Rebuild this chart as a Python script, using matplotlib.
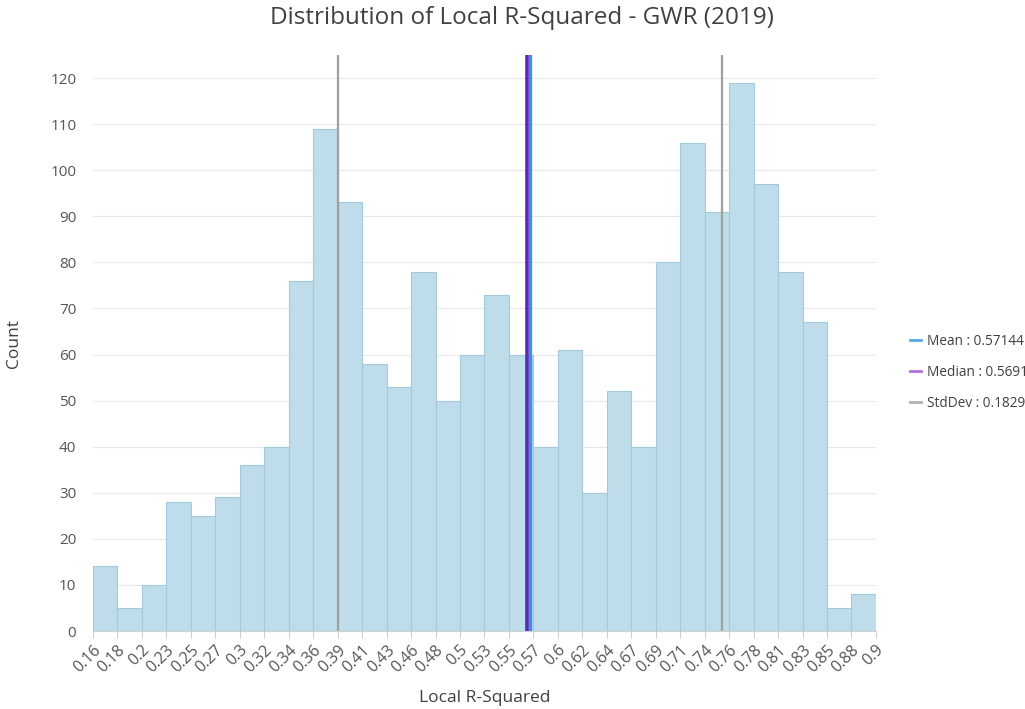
import numpy as np
import matplotlib
matplotlib.use('Agg')
import matplotlib.pyplot as plt
from matplotlib.lines import Line2D

plt.rcParams['font.family'] = ['Open Sans', 'DejaVu Sans']

# bin counts
counts = [14, 5, 10, 28, 25, 29, 36, 40, 76, 109, 93, 58, 53, 78, 50, 60,
          73, 60, 40, 61, 30, 52, 40, 80, 106, 91, 119, 97, 78, 67, 5, 8]
edge_labels = ['0.16', '0.18', '0.2', '0.23', '0.25', '0.27', '0.3', '0.32',
               '0.34', '0.36', '0.39', '0.41', '0.43', '0.46', '0.48', '0.5',
               '0.53', '0.55', '0.57', '0.6', '0.62', '0.64', '0.67', '0.69',
               '0.71', '0.74', '0.76', '0.78', '0.81', '0.83', '0.85', '0.88',
               '0.9']
x_min, x_max = 0.1552, 0.9014
mean = 0.57144
median = 0.5691
std = 0.18294

edges = np.linspace(x_min, x_max, len(counts) + 1)
widths = np.diff(edges)

fig = plt.figure(figsize=(10.25, 7.09), dpi=100)
ax = fig.add_axes([0.0907, 0.110, 0.7639, 0.8124])

ax.bar(edges[:-1], counts, width=widths, align='edge',
       color='#bfdcea', edgecolor='#a3cadc', linewidth=0.8, zorder=2)

ax.axvline(mean - std, color='#a0a0a0', lw=1.6, zorder=3)
ax.axvline(mean + std, color='#a0a0a0', lw=1.6, zorder=3)
ax.axvline(mean, color='#3d8fe8', lw=2.4, zorder=4)
ax.axvline(median, color='#5a2bb5', lw=2.6, zorder=5)

ax.set_xlim(x_min, x_max)
ax.set_ylim(0, 125)
ax.set_yticks(np.arange(0, 121, 10))
ax.set_xticks(edges)
ax.set_xticklabels(edge_labels, rotation=45, ha='right', rotation_mode='anchor')
ax.grid(axis='y', color='#e8e8e8', lw=0.9, zorder=0)
ax.set_axisbelow(True)
for s in ('top', 'right', 'left'):
    ax.spines[s].set_visible(False)
ax.spines['bottom'].set_color('#cfcfcf')
ax.tick_params(axis='x', colors='#cfcfcf', labelcolor='#555555',
               labelsize=11.5, length=5, pad=3)
ax.tick_params(axis='y', length=0, labelcolor='#555555', labelsize=11, pad=12)

fig.text(0.509, 0.974, 'Distribution of Local R-Squared - GWR (2019)',
         fontsize=17.5, color='#404040', ha='center', va='center')
ax.set_ylabel('Count', fontsize=12.5, color='#404040', labelpad=20)
ax.set_xlabel('Local R-Squared', fontsize=12.5, color='#404040', labelpad=10)

handles = [Line2D([], [], color='#5aa6ea', lw=2),
           Line2D([], [], color='#b070d8', lw=2),
           Line2D([], [], color='#b0b0b0', lw=2)]
labels = ['Mean : %.5f' % mean, 'Median : %.4f' % median,
          'StdDev : %.5f' % std]
ax.legend(handles, labels, loc='center left', bbox_to_anchor=(1.028, 0.449),
          frameon=False, fontsize=9.8, handlelength=0.8, handletextpad=0.45,
          labelspacing=1.2, labelcolor='#404040')

fig.savefig('out.png', dpi=100)
